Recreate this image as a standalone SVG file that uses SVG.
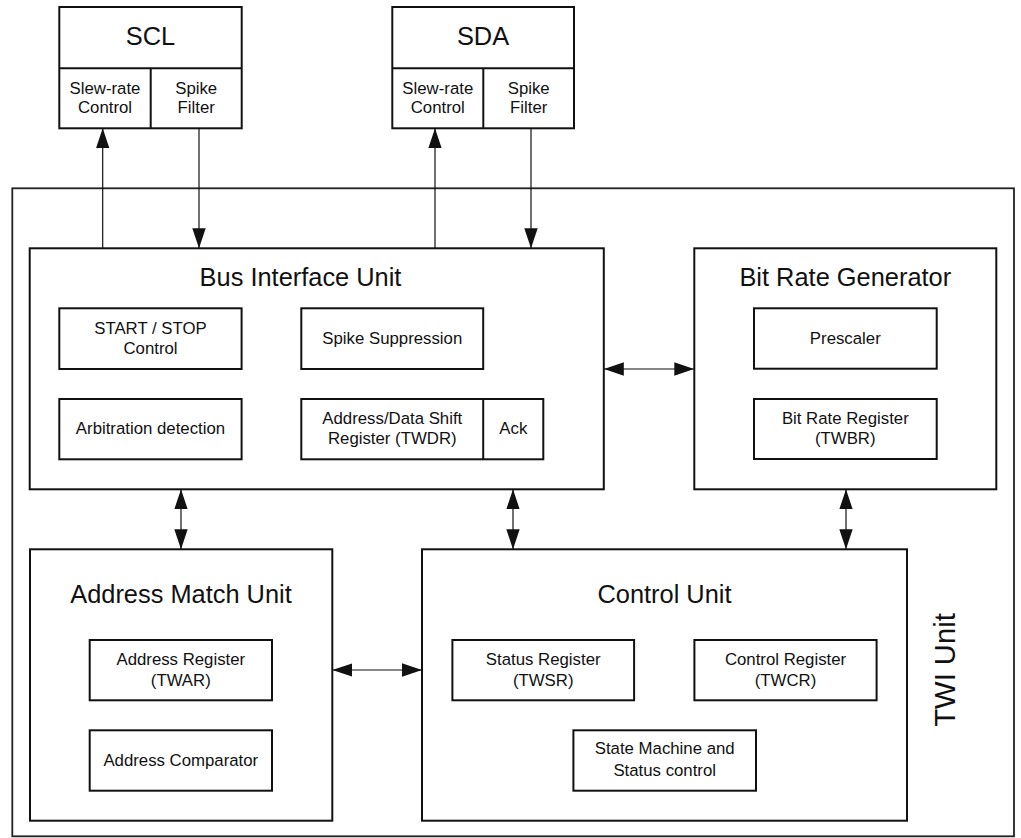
<svg xmlns="http://www.w3.org/2000/svg" width="1021" height="838" viewBox="0 0 1021 838">
<style>
rect, .div { fill: none; stroke: #111; stroke-width: 2; }
.outer { fill: none; stroke: #222; stroke-width: 1.8; }
.conn line { stroke: #111; stroke-width: 1.2; }
text { font-family: "Liberation Sans", Arial, Helvetica, sans-serif; fill: #111; text-anchor: middle; }
.t { font-size: 25.4px; }
.s { font-size: 16.8px; }
.big { font-size: 29.2px; }
</style>
<defs>
<marker id="ah" markerUnits="userSpaceOnUse" markerWidth="20" markerHeight="14" refX="20" refY="6.7" orient="auto-start-reverse" viewBox="0 0 20 13.4">
<path d="M0,0 L20,6.7 L0,13.4 z" fill="#111"/>
</marker>
</defs>
<rect fill="#fff" x="0" y="0" width="1021" height="838" style="stroke:none"/>

<g id="twi-unit">
<rect class="outer" x="12.3" y="188.3" width="1001.7" height="648"/>
<text class="big" transform="translate(955,670) rotate(-90)" x="0" y="0">TWI Unit</text>
</g>

<g id="scl">
<rect x="59.3" y="7" width="182.4" height="121.3"/>
<line class="div" x1="59.3" y1="68.3" x2="241.7" y2="68.3"/>
<line class="div" x1="150.7" y1="68.3" x2="150.7" y2="128.3"/>
<text class="t" x="150.5" y="45">SCL</text>
<text class="s" x="105" y="94.3">Slew-rate</text>
<text class="s" x="105" y="113.3">Control</text>
<text class="s" x="196.2" y="94.3">Spike</text>
<text class="s" x="196.2" y="113.3">Filter</text>
</g>

<g id="sda">
<rect x="392.3" y="7" width="181.7" height="121.3"/>
<line class="div" x1="392.3" y1="68.3" x2="574" y2="68.3"/>
<line class="div" x1="483.3" y1="68.3" x2="483.3" y2="128.3"/>
<text class="t" x="483" y="45">SDA</text>
<text class="s" x="437.8" y="94.3">Slew-rate</text>
<text class="s" x="437.8" y="113.3">Control</text>
<text class="s" x="528.7" y="94.3">Spike</text>
<text class="s" x="528.7" y="113.3">Filter</text>
</g>

<g id="bus-interface-unit">
<rect x="29.7" y="248.3" width="574.1" height="241"/>
<text class="t" x="300.5" y="285.7">Bus Interface Unit</text>
<rect x="59.3" y="308.3" width="182.3" height="60.7"/>
<text class="s" x="150.5" y="334.3">START / STOP</text>
<text class="s" x="150.5" y="354">Control</text>
<rect x="301.3" y="308.3" width="181.9" height="60.7"/>
<text class="s" x="392.3" y="344.3">Spike Suppression</text>
<rect x="59.3" y="399" width="182.3" height="60.3"/>
<text class="s" x="150.5" y="434.3">Arbitration detection</text>
<rect x="301.3" y="399" width="242" height="60.3"/>
<line class="div" x1="483.2" y1="399" x2="483.2" y2="459.3"/>
<text class="s" x="392.3" y="424.3">Address/Data Shift</text>
<text class="s" x="392.3" y="444.3">Register (TWDR)</text>
<text class="s" x="513.3" y="434.3">Ack</text>
</g>

<g id="bit-rate-generator">
<rect x="694.3" y="248.3" width="302" height="241"/>
<text class="t" x="845.3" y="285.7">Bit Rate Generator</text>
<rect x="754" y="308.3" width="182.7" height="60.4"/>
<text class="s" x="845.3" y="344.3">Prescaler</text>
<rect x="754" y="399" width="182.7" height="60"/>
<text class="s" x="845.3" y="424.3">Bit Rate Register</text>
<text class="s" x="845.3" y="444.3">(TWBR)</text>
</g>

<g id="address-match-unit">
<rect x="30" y="549.3" width="302.3" height="271.4"/>
<text class="t" x="181" y="602.7">Address Match Unit</text>
<rect x="89.7" y="640" width="182.3" height="60.3"/>
<text class="s" x="180.8" y="665">Address Register</text>
<text class="s" x="180.8" y="685.7">(TWAR)</text>
<rect x="89.7" y="730.3" width="182.3" height="60.4"/>
<text class="s" x="180.8" y="766">Address Comparator</text>
</g>

<g id="control-unit">
<rect x="422" y="549.3" width="485" height="271.4"/>
<text class="t" x="664.5" y="602.7">Control Unit</text>
<rect x="452.4" y="640" width="181.7" height="60.3"/>
<text class="s" x="543.2" y="665">Status Register</text>
<text class="s" x="543.2" y="685.7">(TWSR)</text>
<rect x="694.4" y="640" width="182.2" height="60.3"/>
<text class="s" x="785.5" y="665">Control Register</text>
<text class="s" x="785.5" y="685.7">(TWCR)</text>
<rect x="573.4" y="730.3" width="182.6" height="60.4"/>
<text class="s" x="664.7" y="754.3">State Machine and</text>
<text class="s" x="664.7" y="775.7">Status control</text>
</g>

<g id="connectors" class="conn">
<line x1="102.7" y1="248.3" x2="102.7" y2="128.3" marker-end="url(#ah)"/>
<line x1="199" y1="128.3" x2="199" y2="248.3" marker-end="url(#ah)"/>
<line x1="435" y1="248.3" x2="435" y2="128.3" marker-end="url(#ah)"/>
<line x1="531" y1="128.3" x2="531" y2="248.3" marker-end="url(#ah)"/>
<line x1="603.8" y1="369" x2="694.3" y2="369" marker-start="url(#ah)" marker-end="url(#ah)"/>
<line x1="181" y1="489.3" x2="181" y2="549.3" marker-start="url(#ah)" marker-end="url(#ah)"/>
<line x1="513" y1="489.3" x2="513" y2="549.3" marker-start="url(#ah)" marker-end="url(#ah)"/>
<line x1="846" y1="489.3" x2="846" y2="549.3" marker-start="url(#ah)" marker-end="url(#ah)"/>
<line x1="332.3" y1="670" x2="422" y2="670" marker-start="url(#ah)" marker-end="url(#ah)"/>
</g>
</svg>
